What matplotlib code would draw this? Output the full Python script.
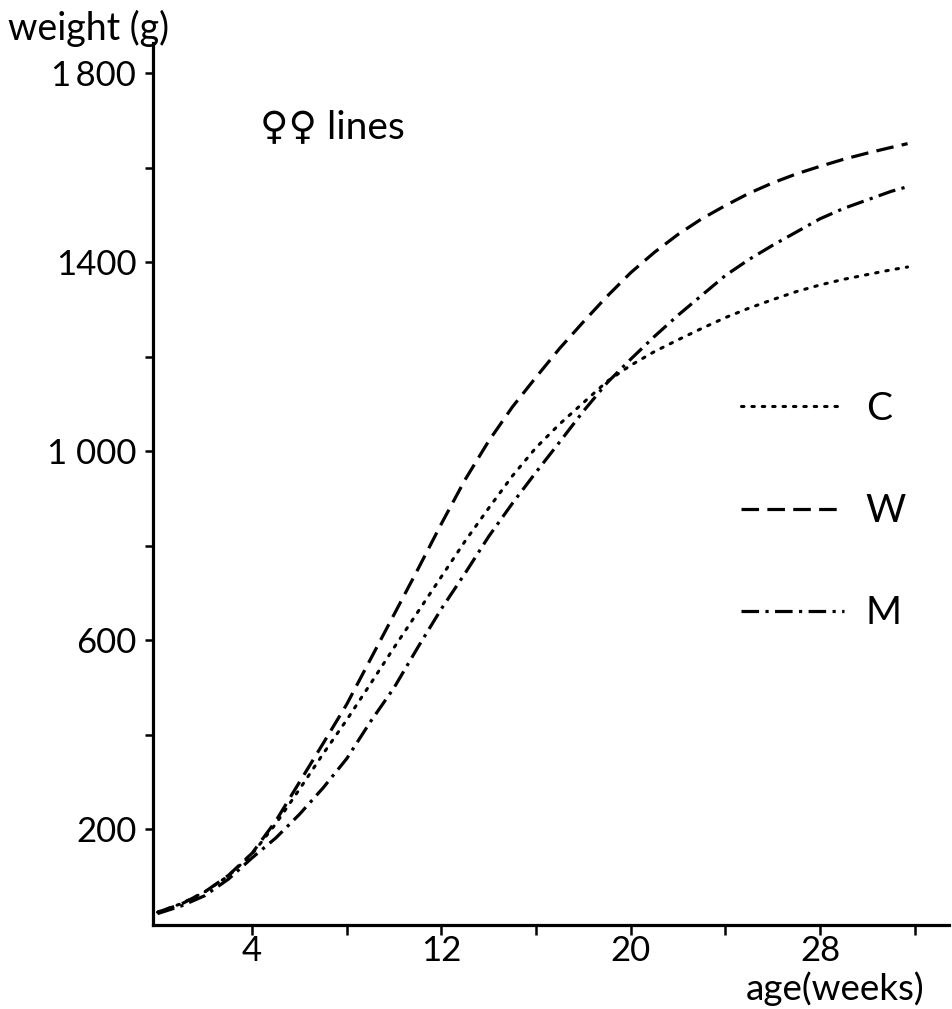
import matplotlib
matplotlib.use("Agg")
import matplotlib.pyplot as plt

# weeks of age and mean body weight (g) for the three female lines
weeks = [0, 1, 2, 3, 4, 5, 6, 7, 8, 9, 10, 11, 12, 13, 14, 15, 16,
         17, 18, 19, 20, 21, 22, 23, 24, 25, 26, 27, 28, 29, 30, 31, 31.7]
weight_c = [25, 43, 68, 102, 148, 212, 285, 360, 432, 508, 585, 660, 735, 810, 880, 948, 1008,
            1058, 1103, 1148, 1182, 1211, 1236, 1260, 1283, 1303, 1321, 1338, 1352, 1364, 1374, 1384, 1390]
weight_w = [25, 42, 68, 103, 150, 218, 300, 382, 465, 560, 655, 750, 847, 940, 1022, 1094, 1157,
            1218, 1274, 1328, 1378, 1421, 1459, 1492, 1520, 1546, 1568, 1587, 1603, 1618, 1631, 1643, 1651]
weight_m = [22, 38, 60, 95, 140, 182, 232, 288, 350, 428, 500, 585, 667, 742, 820, 890, 956,
            1020, 1085, 1145, 1195, 1243, 1288, 1330, 1372, 1406, 1436, 1464, 1492, 1514, 1532, 1550, 1560]

x_major = [4, 12, 20, 28]
x_minor = [8, 16, 24, 32]
y_major = [200, 600, 1000, 1400, 1800]
y_major_labels = ["200", "600", "1 000", "1400", "1\u2009800"]
y_minor = [400, 800, 1200, 1600]

plt.rcParams['font.family'] = ['Lato', 'DejaVu Sans']

fig = plt.figure(figsize=(9.52, 10.09), dpi=100)
ax = fig.add_axes([0.1607, 0.0833, 0.8361, 0.8741])

ax.plot(weeks, weight_c, color="black", lw=2.2, linestyle=(0, (0.8, 2.6)),
        dash_capstyle="round", label="C")
ax.plot(weeks, weight_w, color="black", lw=2.3, linestyle=(0, (5.5, 2.6)), label="W")
ax.plot(weeks, weight_m, color="black", lw=2.3, linestyle=(0, (5.5, 2.0, 1.0, 2.0)), label="M")

ax.set_xlim(-0.19, 33.45)
ax.set_ylim(-2, 1864)

ax.spines["top"].set_visible(False)
ax.spines["right"].set_visible(False)
ax.spines["left"].set_linewidth(2.3)
ax.spines["bottom"].set_linewidth(2.3)

ax.set_xticks(x_major)
ax.set_xticks(x_minor, minor=True)
ax.set_yticks(y_major)
ax.set_yticklabels(y_major_labels)
ax.set_yticks(y_minor, minor=True)
ax.tick_params(axis="both", which="both", direction="out", width=1.8, labelsize=25)
ax.tick_params(axis="x", which="both", length=7, pad=0.5)
ax.tick_params(axis="y", which="both", length=6, pad=6)

leg = ax.legend(loc="upper left", bbox_to_anchor=(0.695, 0.645), frameon=False,
                fontsize=28, handlelength=2.65, handletextpad=0.55, labelspacing=1.7)

ax.text(0.135, 0.905, "\u2640\u2640 lines", transform=ax.transAxes, fontsize=28,
        va="center", ha="left")

fig.text(8 / 952, 1 - 28 / 1009, "weight (g)", fontsize=27, ha="left", va="center")
fig.text(924 / 952, 1 - 1000 / 1009, "age(weeks)", fontsize=26.5, ha="right", va="baseline")

fig.savefig("out.png", dpi=100)
